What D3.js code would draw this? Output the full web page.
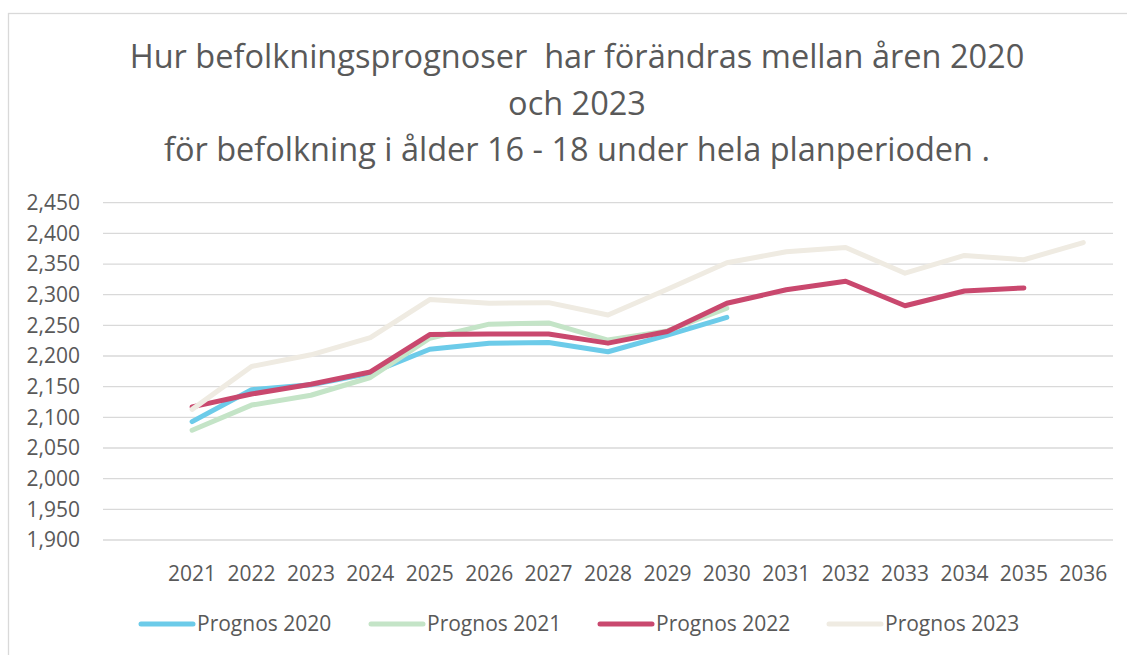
<!DOCTYPE html>
<html>
<head>
<meta charset="utf-8">
<script src="https://cdn.jsdelivr.net/npm/d3@7"></script>
<style>
  body { margin: 0; background: #fff; }
  text { font-family: "Open Sans", sans-serif; fill: #595959; }
</style>
</head>
<body>
<div id="chart"></div>
<script>
// data
var years = ["2021","2022","2023","2024","2025","2026","2027","2028","2029","2030","2031","2032","2033","2034","2035","2036"];
var yTicks = [1900,1950,2000,2050,2100,2150,2200,2250,2300,2350,2400,2450];
var seriesNames = ["Prognos 2020","Prognos 2021","Prognos 2022","Prognos 2023"];
var prognos2020 = [2093,2145,2153,2172,2211,2221,2222,2207,2234,2263];
var prognos2021 = [2079,2120,2136,2165,2229,2252,2254,2226,2241,2278];
var prognos2022 = [2117,2138,2154,2174,2235,2236,2236,2221,2240,2286,2308,2322,2282,2306,2311];
var prognos2023 = [2113,2183,2202,2230,2292,2286,2287,2267,2309,2352,2370,2377,2335,2364,2357,2385];
var colors = ["#6ccbe9","#c4e4c7","#c9486e","#efebe2"];
var titleLines = ["Hur befolkningsprognoser  har förändras mellan åren 2020","och 2023","för befolkning i ålder 16 - 18 under hela planperioden ."];

var allSeries = [prognos2020, prognos2021, prognos2022, prognos2023];

var width = 1127, height = 655;
var margin = {top: 202.7, right: 14, bottom: 115, left: 103};
var plotRight = width - margin.right;
var plotBottom = height - margin.bottom;

var svg = d3.select("#chart").append("svg")
    .attr("width", width)
    .attr("height", height);

// chart frame
svg.append("rect")
    .attr("x", 8.5).attr("y", 13.5)
    .attr("width", 1200).attr("height", 700)
    .attr("fill", "#fff")
    .attr("stroke", "#d9d9d9")
    .attr("stroke-width", 1.3);

// title (keep the double space)
var title = svg.append("text")
    .attr("text-anchor", "middle")
    .attr("font-size", "32.5px")
    .style("white-space", "pre");
var titleY = [68, 114.5, 161];
titleLines.forEach(function(t, i){
    title.append("tspan")
        .attr("x", 577)
        .attr("y", titleY[i])
        .text(t);
});

// one empty slot on the left like the original sheet
var band = (plotRight - margin.left) / (years.length + 1);
var x = d3.scaleBand()
    .domain(years)
    .range([margin.left + band, plotRight]);

var y = d3.scaleLinear()
    .domain([1900, 2450])
    .range([plotBottom, margin.top]);

// gridlines
svg.append("g")
    .selectAll("line")
    .data(yTicks)
    .enter()
    .append("line")
    .attr("x1", margin.left)
    .attr("x2", plotRight)
    .attr("y1", function(d){ return y(d); })
    .attr("y2", function(d){ return y(d); })
    .attr("stroke", "#d9d9d9")
    .attr("stroke-width", 1.3);

var yAxis = d3.axisLeft(y)
    .tickValues(yTicks)
    .tickFormat(d3.format(","))
    .tickSize(0)
    .tickPadding(0);

var gy = svg.append("g")
    .attr("transform", "translate(80,0)")
    .call(yAxis);
gy.select(".domain").remove();
gy.selectAll("text")
    .attr("font-size", "21px")
    .attr("font-family", "Open Sans")
    .attr("fill", "#595959");

var xAxis = d3.axisBottom(x)
    .tickSize(0)
    .tickPadding(0);

var gx = svg.append("g")
    .attr("transform", "translate(0," + 566 + ")")
    .call(xAxis);
gx.select(".domain").remove();
gx.selectAll("text")
    .attr("font-size", "21px")
    .attr("font-family", "Open Sans")
    .attr("fill", "#595959");

// series lines
var line = d3.line()
    .x(function(d, i){ return x(years[i]) + x.bandwidth()/2; })
    .y(function(d){ return y(d); });

allSeries.forEach(function(s, i){
    svg.append("path")
        .datum(s)
        .attr("d", line)
        .attr("fill", "none")
        .attr("stroke", colors[i])
        .attr("stroke-width", 5)
        .attr("stroke-linecap", "round")
        .attr("stroke-linejoin", "round");
});

// legend
var legendX = [139, 369, 598, 827];
var legend = svg.append("g").attr("class", "legend");
seriesNames.forEach(function(n, i){
    legend.append("line")
        .attr("x1", legendX[i] + 2)
        .attr("x2", legendX[i] + 54)
        .attr("y1", 624)
        .attr("y2", 624)
        .attr("stroke", colors[i])
        .attr("stroke-width", 5)
        .attr("stroke-linecap", "round");
    legend.append("text")
        .attr("x", legendX[i] + 58)
        .attr("y", 624)
        .attr("dy", "0.35em")
        .attr("font-size", "21px")
        .text(n);
});
</script>
</body>
</html>
